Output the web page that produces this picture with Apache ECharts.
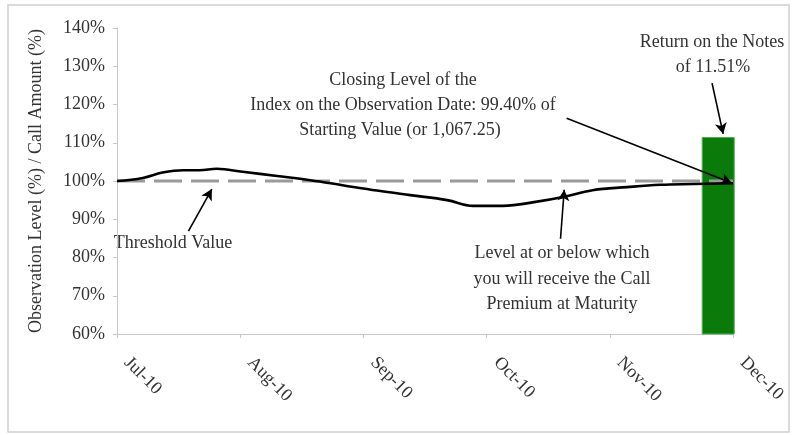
<!DOCTYPE html>
<html>
<head>
<meta charset="utf-8">
<script src="https://cdn.jsdelivr.net/npm/echarts@6/dist/echarts.min.js"></script>
<style>
html,body{margin:0;padding:0;background:#fff;}
#c{width:794px;height:435px;}
</style>
</head>
<body>
<div id="c"></div>
<script>
// ---- data ----
var months = ['Jul-10', 'Aug-10', 'Sep-10', 'Oct-10', 'Nov-10', 'Dec-10'];
var yTicks = [60, 70, 80, 90, 100, 110, 120, 130, 140];
// observation index level (% of starting value), x = months since Jul-10
var obsX = [0, 0.21, 0.37, 0.54, 0.67, 0.81, 1.02, 1.30, 1.57, 1.83, 2.11, 2.38, 2.68, 2.89, 3.13, 3.41, 3.62, 3.86, 4.14, 4.41, 4.68, 5.0];
var obsY = [100, 100.8, 102.2, 102.8, 102.8, 103.2, 102.4, 101.3, 100.2, 98.9, 97.5, 96.3, 95.0, 93.5, 93.5, 94.6, 95.8, 97.6, 98.4, 99.0, 99.2, 99.4];
var thresholdX = [0, 5];
var thresholdY = [100, 100];
var returnX = [4.88];
var returnY = [111.51];
// annotation arrows [fromX, fromY, toX, toY] in data units
var arrowFromX = [3.65, 4.83, 0.58, 3.60];
var arrowFromY = [116.4, 125.6, 86.9, 84.9];
var arrowToX = [4.99, 4.92, 0.77, 3.63];
var arrowToY = [99.5, 112.3, 97.9, 97.7];

var FONT = '"Liberation Serif", "Times New Roman", serif';
var TXT = '#333';
var FS = 18;

var lineData = obsX.map(function (x, i) { return [x, obsY[i]]; });
var thrData = thresholdX.map(function (x, i) { return [x, thresholdY[i]]; });
var barData = returnX.map(function (x, i) { return [x, returnY[i]]; });
var arrows = arrowFromX.map(function (x, i) {
  return [{ coord: [x, arrowFromY[i]] }, { coord: [arrowToX[i], arrowToY[i]] }];
});

function txt(s, x, y) {
  return { type: 'text', x: x, y: y, silent: true,
    style: { text: s, font: FS + 'px ' + FONT, fill: TXT, textAlign: 'center', textVerticalAlign: 'middle' } };
}

var chart = echarts.init(document.getElementById('c'), null, { renderer: 'canvas' });
var option = {
  animation: false,
  backgroundColor: '#fff',
  grid: { left: 117, right: 61, top: 28, bottom: 101 },
  xAxis: {
    type: 'value', min: 0, max: 5, interval: 1,
    axisLine: { show: true, lineStyle: { color: '#c8c8c8', width: 1 } },
    axisTick: { show: true, length: 4, lineStyle: { color: '#c8c8c8' } },
    splitLine: { show: false },
    axisLabel: {
      rotate: -45, margin: 16, padding: [0, 0, 0, 14], color: TXT, fontFamily: FONT, fontSize: FS,
      formatter: function (v) { return months[Math.round(v)] || ''; }
    }
  },
  yAxis: {
    type: 'value', min: yTicks[0], max: yTicks[yTicks.length - 1], interval: 10,
    name: 'Observation Level (%) / Call Amount (%)',
    nameLocation: 'middle', nameGap: 72,
    nameTextStyle: { color: TXT, fontFamily: FONT, fontSize: FS },
    axisLine: { show: true, lineStyle: { color: '#c8c8c8', width: 1 } },
    axisTick: { show: true, length: 4, lineStyle: { color: '#c8c8c8' } },
    splitLine: { show: false },
    axisLabel: { color: TXT, fontFamily: FONT, fontSize: FS, margin: 12, formatter: '{value}%' }
  },
  series: [
    {
      type: 'bar', data: barData, barWidth: 33, z: 1,
      itemStyle: { color: '#0a7a0a', borderColor: '#4fae4f', borderWidth: 1 }
    },
    {
      type: 'line', data: thrData, symbol: 'none', z: 2,
      lineStyle: { color: '#9a9a9a', width: 3, type: [28, 9] },
      markLine: {
        silent: true, symbol: ['none', 'arrow'], symbolSize: [9, 11],
        lineStyle: { color: '#000', width: 1.6, type: 'solid' },
        label: { show: false },
        data: arrows
      }
    },
    {
      type: 'line', data: lineData, symbol: 'none', smooth: 0.4, z: 3,
      lineStyle: { color: '#000', width: 2.6 }
    }
  ],
  graphic: [
    { type: 'rect', silent: true, shape: { x: 8, y: 5, width: 781, height: 427 }, style: { fill: 'none', stroke: '#cfcfcf', lineWidth: 1.5 } },
    txt('Closing Level of the', 403, 80),
    txt('Index on the Observation Date: 99.40% of', 403, 105),
    txt('Starting Value (or 1,067.25)', 400, 130),
    txt('Return on the Notes', 712, 42),
    txt('of 11.51%', 713, 67),
    txt('Threshold Value', 173, 243),
    txt('Level at or below which', 562, 253),
    txt('you will receive the Call', 562, 279),
    txt('Premium at Maturity', 562, 304)
  ]
};
chart.setOption(option);
</script>
</body>
</html>
